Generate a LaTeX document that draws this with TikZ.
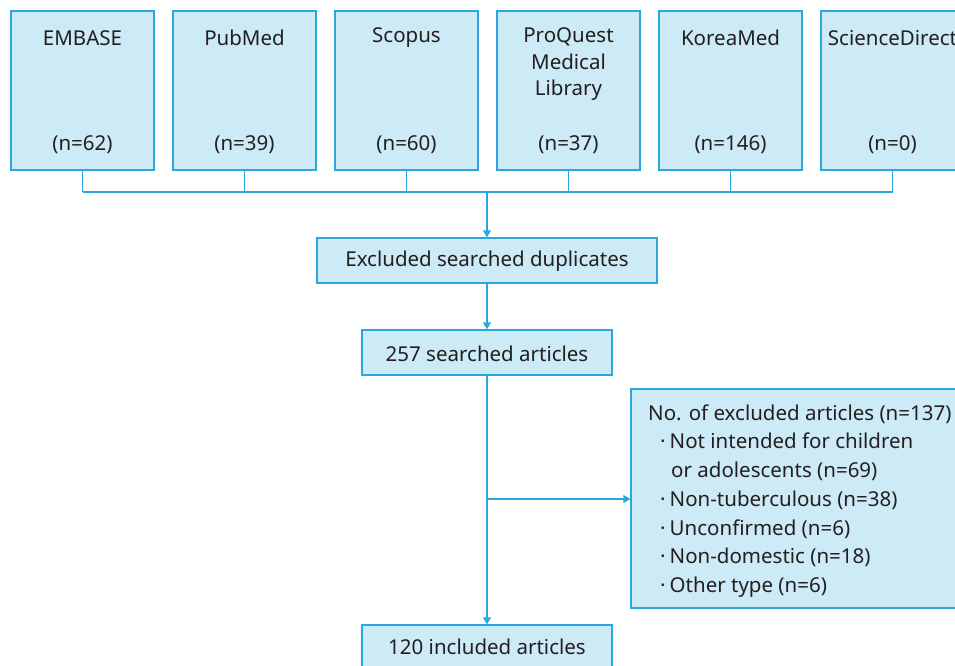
\documentclass[tikz,border=0pt]{standalone}
\usepackage{fontspec}
\setmainfont{Noto Sans}
\usetikzlibrary{arrows.meta}
\definecolor{boxfill}{HTML}{CDEAF7}
\definecolor{boxline}{HTML}{29A8E0}
\definecolor{txt}{HTML}{231F20}
\tikzset{
  srcbox/.style={draw=boxline, fill=boxfill, line width=1.3pt, minimum width=143pt, minimum height=159pt, inner sep=0pt},
  flowbox/.style={draw=boxline, fill=boxfill, line width=1.3pt, inner sep=0pt},
  lbl/.style={text=txt, font=\fontsize{20.5}{24}\selectfont, inner sep=0pt, align=center},
  conn/.style={draw=boxline, line width=1.3pt},
  arr/.style={conn, -{Triangle[length=7pt,width=8pt]}},
}
\begin{document}
\begin{tikzpicture}[x=1pt,y=-1pt]
\useasboundingbox (0,0) rectangle (955,666);
\clip (0,0) rectangle (955,666);
% source boxes
\foreach \i/\cx in {1/82.5,2/244.5,3/406.5,4/568.5,5/730.5,6/892.5}{
  \node[srcbox] (b\i) at (\cx,90.5) {};
}
\node[lbl] (t1) at (82.5,38) {EMBASE};
\node[lbl] (t2) at (244.5,38) {PubMed};
\node[lbl] (t3) at (406.5,38) {Scopus};
\node[lbl, font=\fontsize{20.5}{26.5}\selectfont] (t4) at (568.5,64.5) {ProQuest\\Medical\\Library};
\node[lbl] (t5) at (730.5,38) {KoreaMed};
\node[lbl] (t6) at (892.5,38) {ScienceDirect};
\node[lbl] (n1) at (82.5,145) {(n=62)};
\node[lbl] (n2) at (244.5,145) {(n=39)};
\node[lbl] (n3) at (406.5,145) {(n=60)};
\node[lbl] (n4) at (568.5,145) {(n=37)};
\node[lbl] (n5) at (730.5,145) {(n=146)};
\node[lbl] (n6) at (892.5,145) {(n=0)};
% flow boxes
\node[flowbox, minimum width=340pt, minimum height=45pt] (dup) at (487,260.5) {};
\node[lbl] (duptxt) at (487,261.5) {Excluded searched duplicates};
\node[flowbox, minimum width=250pt, minimum height=45pt] (s257) at (487,352.5) {};
\node[lbl] (s257txt) at (487,353.5) {257 searched articles};
\node[flowbox, minimum width=250pt, minimum height=45pt] (inc) at (487,647.5) {};
\node[lbl] (inctxt) at (487,647) {120 included articles};
\node[flowbox, minimum width=332pt, minimum height=219pt] (exc) at (797,498.5) {};
\node[lbl, anchor=west, align=left, font=\fontsize{20.5}{28.7}\selectfont] (exctxt) at (648,501) {No. of excluded articles (n=137)\\
\hspace*{12pt}·\hspace{4pt}Not intended for children\\
\hspace*{23pt}or adolescents (n=69)\\
\hspace*{12pt}·\hspace{4pt}Non-tuberculous (n=38)\\
\hspace*{12pt}·\hspace{4pt}Unconfirmed (n=6)\\
\hspace*{12pt}·\hspace{4pt}Non-domestic (n=18)\\
\hspace*{12pt}·\hspace{4pt}Other type (n=6)};
% connectors
\coordinate (hl) at (82.5,192);
\coordinate (hr) at (892.5,192);
\coordinate (hm) at (487,192);
\coordinate (br) at (487,499);
\foreach \i in {1,...,6}{ \draw[conn] (b\i.south) -- (b\i.south |- hl); }
\draw[conn] (hl) -- (hr);
\draw[arr] (hm) -- (dup.north);
\draw[arr] (dup.south) -- (s257.north);
\draw[arr] (s257.south) -- (inc.north);
\draw[arr] (br) -- (exc.west |- br);
\end{tikzpicture}
\end{document}
